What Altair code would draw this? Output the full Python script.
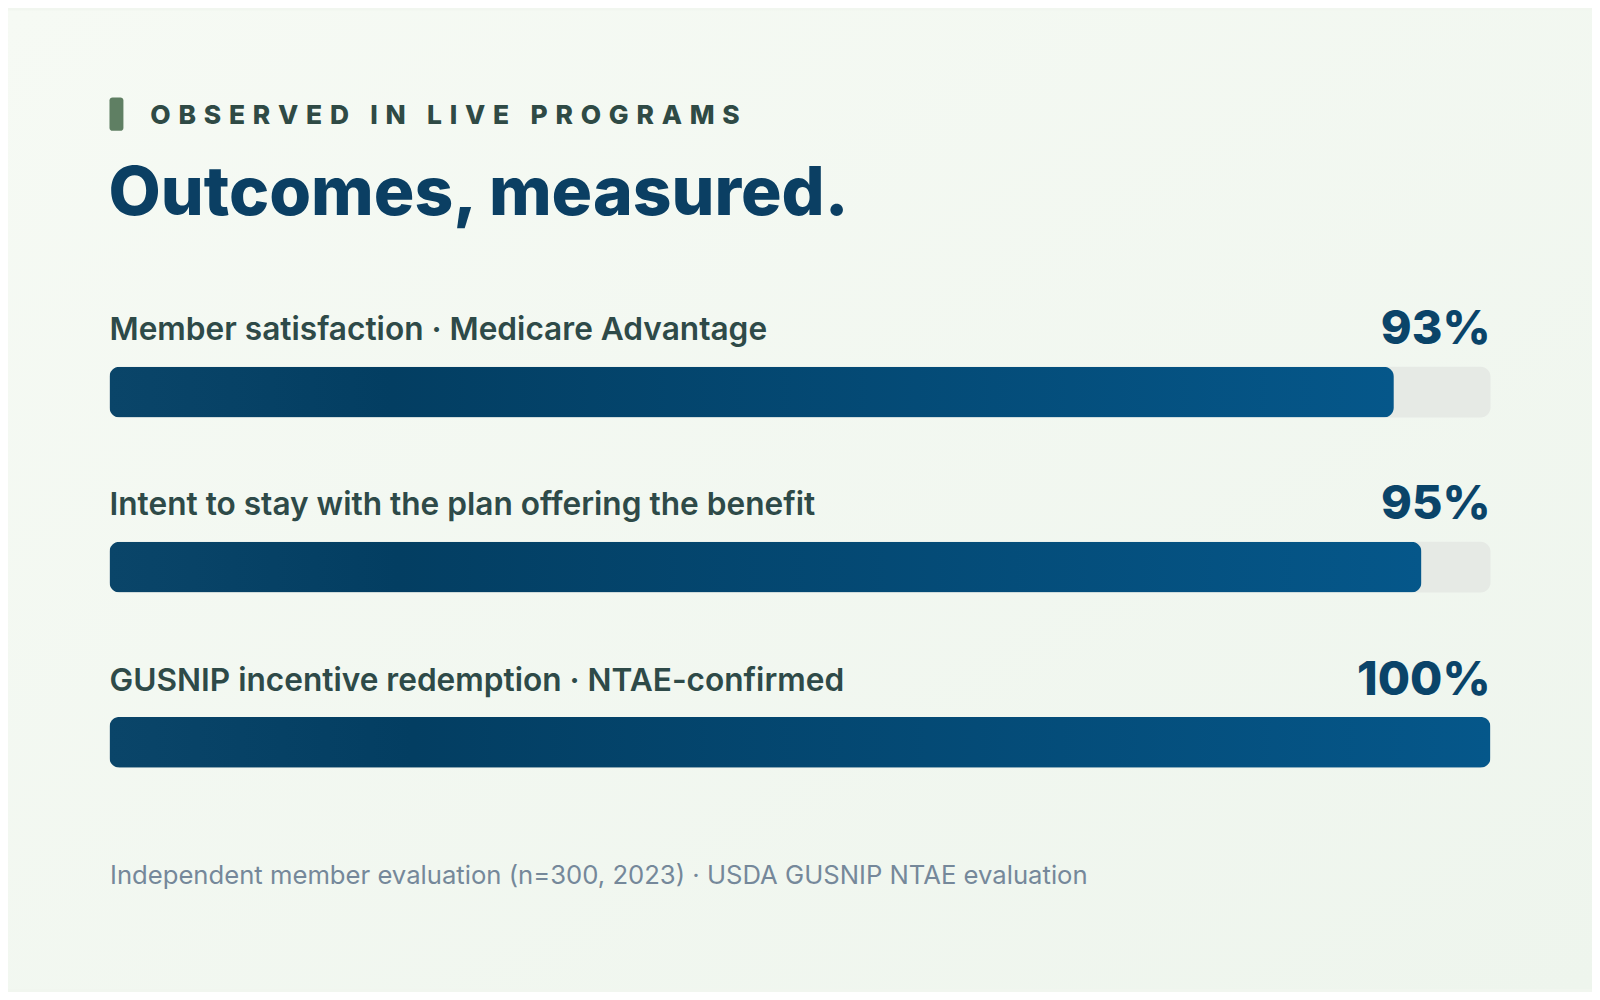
import pandas as pd
import altair as alt

labels = [
    "Member satisfaction · Medicare Advantage",
    "Intent to stay with the plan offering the benefit",
    "GUSNIP incentive redemption · NTAE-confirmed",
]
values = [93, 95, 100]
eyebrow = "OBSERVED IN LIVE PROGRAMS"
headline = "Outcomes, measured."
source_note = "Independent member evaluation (n=300, 2023) · USDA GUSNIP NTAE evaluation"

FONT = "Inter"
W, H = 1388, 528
PAD = {"left": 102, "right": 102, "top": 295.5, "bottom": 160}


def spaced(text):
    # fake letter-spacing with thin + hair spaces
    gap = "\u2009\u200a\u200a"
    words = [gap.join(list(w)) for w in text.split(" ")]
    return (gap + "\u00a0" + gap).join(words)


df = pd.DataFrame({"label": labels, "value": values})
df["pct"] = df["value"].astype(str) + "%"

y_enc = alt.Y("label:N", sort=None, axis=None,
              scale=alt.Scale(paddingInner=0, paddingOuter=0))
x_scale = alt.Scale(domain=[0, 100], nice=False)

base = alt.Chart(df)

track = base.mark_bar(height=51, cornerRadius=10, color="#e6eae5").encode(
    x=alt.X("start:Q", scale=x_scale,
            axis=alt.Axis(labels=False, ticks=False, domain=False, grid=False,
                          title=source_note, titleAnchor="start", titleAlign="left",
                          titleFontSize=25.8, titleFontWeight=400, titleColor="#75889a",
                          titleFont=FONT, titlePadding=34, zindex=1)),
    x2="full:Q",
    y=y_enc,
).transform_calculate(start="0", full="100")

bar_fill = alt.LinearGradient(
    gradient="linear",
    stops=[
        alt.GradientStop(color="#0a4569", offset=0),
        alt.GradientStop(color="#033e62", offset=0.22),
        alt.GradientStop(color="#05578a", offset=1),
    ],
    x1=0, x2=1, y1=0, y2=0,
)

bars = base.mark_bar(height=51, cornerRadius=10, color=bar_fill).encode(
    x=alt.X("value:Q", scale=x_scale),
    y=y_enc,
)

names = base.mark_text(align="left", baseline="alphabetic", dy=-52,
                       font=FONT, fontSize=31.8, fontWeight=600,
                       color="#2e4a48").encode(
    x=alt.datum(0),
    y=y_enc,
    text="label:N",
)

pcts = base.mark_text(align="right", baseline="alphabetic", dy=-48,
                      font=FONT, fontSize=47, fontWeight=800,
                      color="#0a4469").encode(
    x=alt.datum(100),
    y=y_enc,
    text="pct:N",
)

# header block: page wash, green marker, letter-spaced eyebrow and the headline
header = alt.Chart(pd.DataFrame({"eyebrow": [spaced(eyebrow)], "headline": [headline]}))

wash = header.mark_rect(color=alt.LinearGradient(
    gradient="linear",
    stops=[alt.GradientStop(color="#f6faf4", offset=0),
           alt.GradientStop(color="#eef5ed", offset=1)],
    x1=0, x2=1, y1=0, y2=1,
)).encode(
    x=alt.value(-PAD["left"]), x2=alt.value(W + PAD["right"]),
    y=alt.value(-PAD["top"]), y2=alt.value(H + PAD["bottom"]),
)

marker = header.mark_rect(color="#5f7f63", cornerRadius=3).encode(
    x=alt.value(0), x2=alt.value(14),
    y=alt.value(-208), y2=alt.value(-174.5),
)

eyebrow_text = header.mark_text(align="left", baseline="alphabetic",
                                font=FONT, fontSize=26.5, fontWeight=800,
                                color="#2f4a45").encode(
    x=alt.value(41), y=alt.value(-181), text="eyebrow:N",
)

headline_text = header.mark_text(align="left", baseline="alphabetic",
                                 font=FONT, fontSize=68, fontWeight=800,
                                 color="#0b3f63").encode(
    x=alt.value(-1), y=alt.value(-89.5), text="headline:N",
)

chart = alt.layer(wash, track, bars, names, pcts, marker, eyebrow_text, headline_text).properties(
    width=W,
    height=H,
    padding=PAD,
    autosize=alt.AutoSizeParams(type="none"),
    background="#f1f6ef",
).configure_view(stroke=None)

chart.save("out.html", embed_options={"renderer": "svg", "actions": False})
